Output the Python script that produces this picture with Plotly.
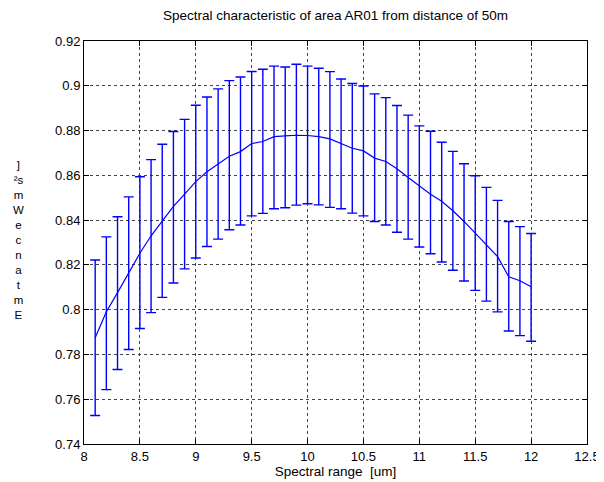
import plotly.graph_objects as go

# spectral range in um
wavelength = [8.1, 8.2, 8.3, 8.4, 8.5, 8.6, 8.7, 8.8, 8.9, 9.0,
              9.1, 9.2, 9.3, 9.4, 9.5, 9.6, 9.7, 9.8, 9.9, 10.0,
              10.1, 10.2, 10.3, 10.4, 10.5, 10.6, 10.7, 10.8, 10.9, 11.0,
              11.1, 11.2, 11.3, 11.4, 11.5, 11.6, 11.7, 11.8, 11.9, 12.0]

mean_val = [0.7875, 0.7991, 0.8076, 0.8166, 0.8252, 0.8330, 0.8397, 0.8461, 0.8516, 0.8572,
            0.8616, 0.8651, 0.8685, 0.8706, 0.8742, 0.8751, 0.8773, 0.8776, 0.8779, 0.8778,
            0.8773, 0.8763, 0.8741, 0.8721, 0.8709, 0.8677, 0.8662, 0.8629, 0.8590, 0.8551,
            0.8516, 0.8484, 0.8442, 0.8394, 0.8341, 0.8289, 0.8237, 0.8147, 0.8129, 0.8102]

upper_val = [0.8222, 0.8325, 0.8415, 0.8504, 0.8594, 0.8670, 0.8739, 0.8796, 0.8850, 0.8913,
             0.8950, 0.8986, 0.9023, 0.9039, 0.9064, 0.9074, 0.9088, 0.9084, 0.9096, 0.9088,
             0.9078, 0.9063, 0.9030, 0.9010, 0.8999, 0.8964, 0.8947, 0.8912, 0.8869, 0.8821,
             0.8797, 0.8748, 0.8707, 0.8652, 0.8598, 0.8546, 0.8488, 0.8394, 0.8371, 0.8340]

lower_val = [0.7527, 0.7643, 0.7733, 0.7822, 0.7916, 0.7987, 0.8055, 0.8119, 0.8182, 0.8231,
             0.8282, 0.8315, 0.8357, 0.8378, 0.8419, 0.8430, 0.8451, 0.8455, 0.8467, 0.8473,
             0.8468, 0.8457, 0.8451, 0.8431, 0.8419, 0.8394, 0.8378, 0.8346, 0.8315, 0.8280,
             0.8250, 0.8213, 0.8176, 0.8128, 0.8086, 0.8038, 0.7990, 0.7905, 0.7884, 0.7859]

x_ticks = [8, 8.5, 9, 9.5, 10, 10.5, 11, 11.5, 12, 12.5]

# the y label came out garbled in the original (upright letters stacked)
ylabel_rows = ["]", "²s", "m", "W", "e", "c", "n", "a", "t", "m", "E"]

err_plus = [u - m for u, m in zip(upper_val, mean_val)]
err_minus = [m - l for m, l in zip(mean_val, lower_val)]

fig = go.Figure()
fig.add_trace(go.Scatter(
    x=wavelength, y=mean_val, mode="lines",
    line=dict(color="#0000ff", width=1.2),
    error_y=dict(type="data", symmetric=False, array=err_plus, arrayminus=err_minus,
                 color="#0000ff", thickness=1.4, width=5),
    showlegend=False,
))

axis_style = dict(
    showline=True, linecolor="black", linewidth=1, mirror="ticks",
    ticks="inside", ticklen=5, tickcolor="black",
    showgrid=True, gridcolor="#444", griddash="dot", gridwidth=1,
    zeroline=False, tickfont=dict(size=13, color="black"),
)

fig.update_xaxes(range=[8, 12.5], tickvals=x_ticks, **axis_style,
                 title=dict(text="Spectral range  [um]", font=dict(size=13.5, color="black"), standoff=2))
fig.update_yaxes(range=[0.74, 0.92], dtick=0.02, tick0=0.74, **axis_style)

fig.add_annotation(
    text="<br>".join(ylabel_rows), xref="paper", yref="paper",
    x=-0.13, y=0.506, xanchor="center", yanchor="middle",
    showarrow=False, font=dict(size=11.5, color="black"),
)

fig.update_layout(
    width=604, height=482,
    margin=dict(l=76, r=17, t=33, b=46),
    paper_bgcolor="white", plot_bgcolor="white",
    font=dict(family="Liberation Sans, Arial, sans-serif", color="black"),
    title=dict(text="Spectral characteristic of area AR01 from distance of 50m",
               xref="paper", x=0.5, xanchor="center", y=0.985, yanchor="middle",
               font=dict(size=13.5, color="black")),
)

fig.write_html("out.html")
